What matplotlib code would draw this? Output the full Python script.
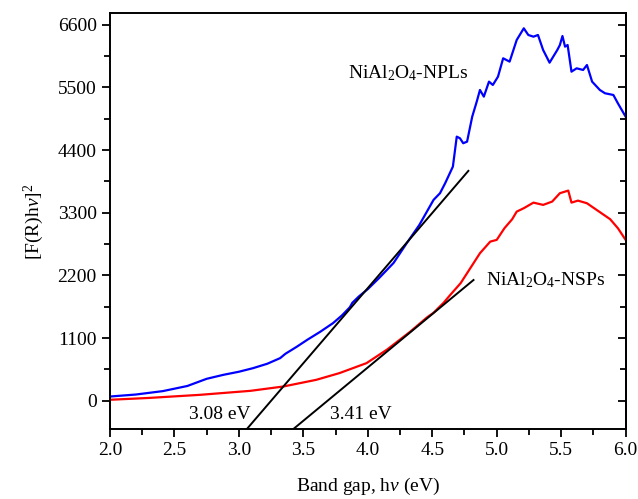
import numpy as np
import matplotlib
matplotlib.use('Agg')
import matplotlib.pyplot as plt
from matplotlib.ticker import MultipleLocator

plt.rcParams['font.family'] = 'Liberation Serif'
plt.rcParams['mathtext.fontset'] = 'custom'
plt.rcParams['mathtext.rm'] = 'Liberation Serif'
plt.rcParams['mathtext.it'] = 'Liberation Serif:italic'

# NiAl2O4-NPLs (blue)
npl_x = [2.0, 2.2, 2.41, 2.6, 2.75, 2.88, 3.0, 3.11, 3.22, 3.32, 3.36, 3.45, 3.53, 3.63,
         3.73, 3.8, 3.86, 3.88, 3.93, 4.0, 4.09, 4.2, 4.3, 4.4, 4.51, 4.56, 4.6, 4.66, 4.69,
         4.715, 4.74, 4.77, 4.81, 4.845, 4.87, 4.9, 4.94, 4.97, 5.01, 5.05, 5.1, 5.155,
         5.21, 5.245, 5.285, 5.32, 5.36, 5.41, 5.47, 5.49, 5.51, 5.53, 5.55, 5.58, 5.62,
         5.67, 5.7, 5.74, 5.8, 5.84, 5.905, 5.94, 6.0]
npl_y = [75, 110, 170, 260, 386, 456, 510, 573, 650, 749, 824, 950, 1070, 1210,
         1363, 1500, 1640, 1720, 1830, 1960, 2160, 2420, 2760, 3087, 3526, 3643, 3818, 4110, 4636,
         4607, 4520, 4548, 4987, 5250, 5455, 5338, 5601, 5543, 5689, 6011, 5952, 6332,
         6537, 6420, 6390, 6420, 6157, 5934, 6157, 6244, 6402, 6215, 6244, 5776, 5835,
         5806, 5893, 5601, 5455, 5397, 5367, 5221, 4987]

# NiAl2O4-NSPs (red)
nsp_x = [2.0, 2.3, 2.7, 3.09, 3.345, 3.6, 3.78, 3.99, 4.15, 4.33, 4.46, 4.51, 4.59,
         4.64, 4.72, 4.87, 4.95, 5.0, 5.06, 5.12, 5.155, 5.21, 5.285, 5.36, 5.43, 5.49,
         5.555, 5.58, 5.63, 5.7, 5.775, 5.88, 5.94, 6.0]
nsp_y = [18, 50, 105, 175, 251, 368, 486, 661, 900, 1215, 1465, 1545, 1725,
         1859, 2064, 2590, 2794, 2824, 3029, 3187, 3320, 3380, 3478, 3438, 3496, 3643,
         3689, 3478, 3513, 3467, 3350, 3187, 3029, 2824]

# tangent lines (start, end)
fit_npl_x = [3.06, 4.78]
fit_npl_y = [-500, 4035]
fit_nsp_x = [3.42, 4.82]
fit_nsp_y = [-500, 2120]

fig = plt.figure(figsize=(6.38, 4.99), dpi=100)
ax = fig.add_axes([0.1724, 0.1397, 0.8082, 0.8336])

ax.plot(npl_x, npl_y, color='#0000ff', lw=1.6)
ax.plot(nsp_x, nsp_y, color='#ff0000', lw=1.6)
ax.plot(fit_npl_x, fit_npl_y, color='black', lw=1.4)
ax.plot(fit_nsp_x, fit_nsp_y, color='black', lw=1.4)

ax.text(3.85, 5750, r'NiAl$_2$O$_4$-NPLs', fontsize=14, va='center')
ax.text(4.92, 2120, r'NiAl$_2$O$_4$-NSPs', fontsize=14, va='center')
ax.text(2.85, -245, '3.08 eV', fontsize=14, ha='center', va='center')
ax.text(3.95, -245, '3.41 eV', fontsize=14, ha='center', va='center')

ax.set_xlim(2.0, 6.0)
ax.set_ylim(-500, 6800)
ax.set_xticks(np.arange(2.0, 6.01, 0.5))
ax.set_yticks(np.arange(0, 6601, 1100))
ax.xaxis.set_minor_locator(MultipleLocator(0.25))
ax.yaxis.set_minor_locator(MultipleLocator(550))
ax.set_xticklabels(['%.1f' % v for v in np.arange(2.0, 6.01, 0.5)])

ax.tick_params(axis='both', which='major', direction='out', length=6, width=1.3, labelsize=14)
ax.tick_params(axis='both', which='minor', direction='out', length=4, width=1.3)
ax.tick_params(top=False, right=False, which='both')
for s in ax.spines.values():
    s.set_linewidth(1.4)

# inward ticks on right spine
sec = ax.secondary_yaxis('right')
sec.set_yticks(np.arange(0, 6601, 1100))
sec.yaxis.set_minor_locator(MultipleLocator(550))
sec.tick_params(which='major', direction='in', length=6, width=1.3, labelright=False)
sec.tick_params(which='minor', direction='in', length=4, width=1.3)
sec.spines['right'].set_linewidth(1.4)

ax.set_xlabel(r'Band gap, h$\mathit{\nu}$ (eV)', fontsize=14, labelpad=12)
ax.set_ylabel(r'[F(R)h$\mathit{\nu}$]$^2$', fontsize=14, labelpad=8)

fig.savefig('out.png', dpi=100)
